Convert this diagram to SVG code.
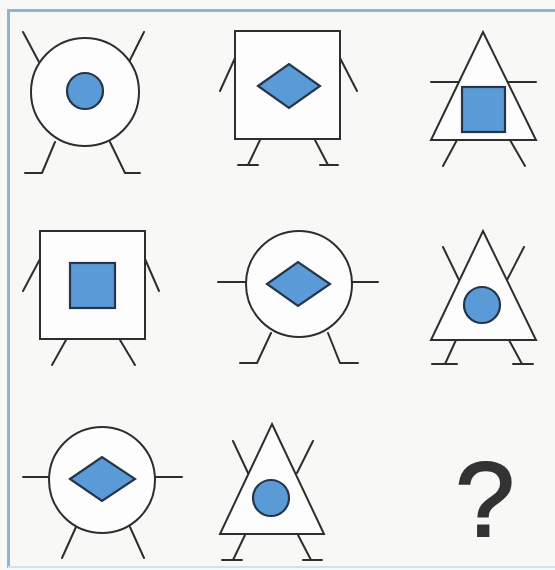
<svg xmlns="http://www.w3.org/2000/svg" width="555" height="570" viewBox="0 0 555 570">
<style>
.ln{fill:none;stroke:#2e2e2e;stroke-width:2;stroke-linecap:round;stroke-linejoin:round}
.sh{fill:#fdfdfd;stroke:#2e2e2e;stroke-width:2}
.bl{fill:#5a9ad6;stroke:#26364a;stroke-width:2.2}
.q{font-family:"Liberation Sans",Arial,sans-serif;font-size:106px;fill:#333;stroke:#333;stroke-width:2.2;text-anchor:middle}
</style>
<rect x="0" y="0" width="555" height="570" fill="#f8f8f6"/>
<path d="M8.5 568 V10.5 H560" fill="none" stroke="#8db6d6" stroke-width="3"/>
<line x1="8" y1="567" x2="555" y2="567" stroke="#cfe2f0" stroke-width="2"/>
<g id="fig1">
<path class="ln" d="M23 32 L39 62 M144 32 L129 62 M55 142 L42 173 H25 M110 142 L125 173 H140"/>
<circle class="sh" cx="85" cy="92" r="54"/>
<circle class="bl" cx="85" cy="91" r="18"/>
</g>
<g id="fig2">
<path class="ln" d="M235 58 L220 91 M340 58 L357 91 M260 140 L248 165 M238 165 H258 M315 140 L328 165 M320 165 H338"/>
<rect class="sh" x="235" y="31" width="105" height="108"/>
<polygon class="bl" points="258,86 289,64 320,86 289,108"/>
</g>
<g id="fig3">
<polygon class="sh" points="483,32 536,140 431,140"/>
<path class="ln" d="M431 82 H459 M508 82 H536 M457 140 L443 166 M510 140 L525 166"/>
<rect class="bl" x="462" y="87" width="43" height="45"/>
</g>
<g id="fig4">
<path class="ln" d="M40 259 L23 291 M145 259 L159 291 M66 340 L52 365 M120 340 L135 365"/>
<rect class="sh" x="40" y="231" width="105" height="108"/>
<rect class="bl" x="70" y="263" width="45" height="45"/>
</g>
<g id="fig5">
<path class="ln" d="M218 282 H246 M352 282 H378 M271 333 L257 363 H240 M328 333 L340 363 H358"/>
<circle class="sh" cx="299" cy="284" r="53"/>
<polygon class="bl" points="267,284 298,262 330,284 298,306"/>
</g>
<g id="fig6">
<path class="ln" d="M456 340 L445 364 M432 364 H457 M509 340 L522 364 M513 364 H533"/>
<polygon class="sh" points="483,231 536,340 431,340"/>
<path class="ln" d="M443 247 L459 280 M524 247 L507 280"/>
<circle class="bl" cx="482" cy="305" r="18"/>
</g>
<g id="fig7">
<path class="ln" d="M23 477 H50 M155 477 H182 M76 527 L62 558 M130 527 L144 558"/>
<circle class="sh" cx="102" cy="480" r="53"/>
<polygon class="bl" points="70,479 102,457 135,479 102,501"/>
</g>
<g id="fig8">
<path class="ln" d="M245 535 L233 560 M222 560 H242 M298 535 L311 560 M303 560 H322"/>
<polygon class="sh" points="272,424 324,534 220,534"/>
<path class="ln" d="M233 441 L248 473 M313 441 L297 473"/>
<circle class="bl" cx="271" cy="498" r="18"/>
</g>
<g id="question">
<text class="q" x="485" y="536">?</text>
</g>
</svg>
